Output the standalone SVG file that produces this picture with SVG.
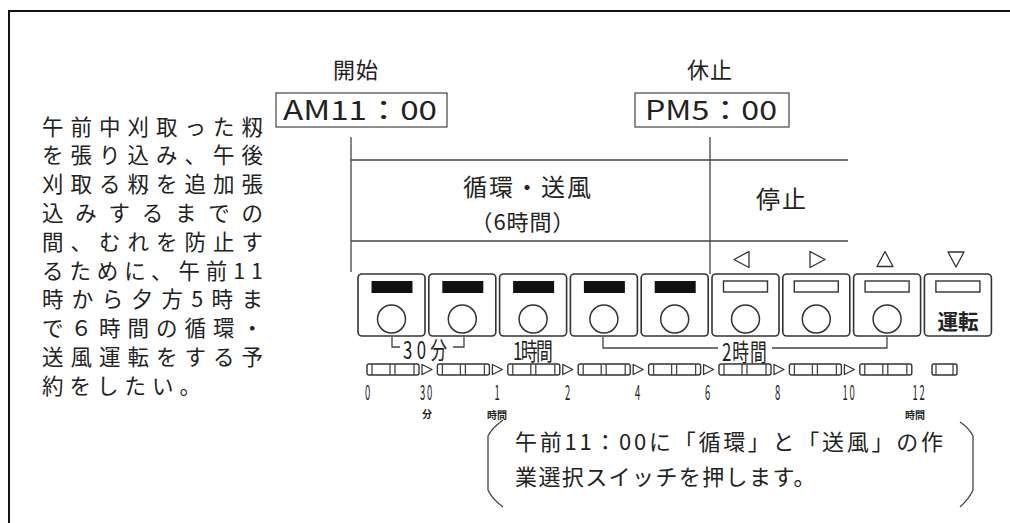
<svg xmlns="http://www.w3.org/2000/svg" width="1010" height="523" viewBox="0 0 1010 523">
<style>
text{font-family:'Noto Sans CJK JP','Noto Sans CJK SC',sans-serif;fill:#222}
.lt{font-size:21.5px}
.hd{font-size:22px;letter-spacing:1px}
.big{font-size:24px;letter-spacing:2px}
.tm{font-size:27px}
.cl{font-size:22px}
.ln{stroke:#444;stroke-width:1.3;fill:none}
.btn{fill:#fff;stroke:#333;stroke-width:1.6}
.bar{fill:#111}
.obar{fill:#fff;stroke:#333;stroke-width:1.4}
.knob{fill:#fff;stroke:#333;stroke-width:1.5}
.seg{fill:#fff;stroke:#333;stroke-width:1.4}
.tri{fill:#fff;stroke:#333;stroke-width:1.3;stroke-linejoin:round}
.num{font-size:21px}
.tiny{font-size:10px;font-weight:bold}
.brk{font-size:24px}
</style>
<defs>
<g id="segm">
<rect class="seg" x="0" y="0" width="52" height="11" rx="2"/>
<line class="ln" x1="5" y1="0" x2="5" y2="11"/>
<line class="ln" x1="23" y1="0" x2="23" y2="11"/>
<line class="ln" x1="28" y1="0" x2="28" y2="11"/>
<line class="ln" x1="47" y1="0" x2="47" y2="11"/>
</g>
<polygon id="rtri" class="tri" points="0,0 10,5 0,10"/>
</defs>

<g id="frame"><path d="M9,523 V11 H1010" fill="none" stroke="#111" stroke-width="2"/></g>

<g id="description">
<text class="lt" x="42" y="134.5" textLength="221" lengthAdjust="spacing">午前中刈取った籾</text>
<text class="lt" x="42" y="163.3" textLength="221" lengthAdjust="spacing">を張り込み、午後</text>
<text class="lt" x="42" y="192.1" textLength="221" lengthAdjust="spacing">刈取る籾を追加張</text>
<text class="lt" x="42" y="220.9" textLength="221" lengthAdjust="spacing">込みするまでの</text>
<text class="lt" x="42" y="249.7" textLength="221" lengthAdjust="spacing">間、むれを防止す</text>
<text class="lt" x="42" y="278.5" textLength="221" lengthAdjust="spacing">るために、午前11</text>
<text class="lt" x="42" y="307.3" textLength="221" lengthAdjust="spacing">時から夕方5時ま</text>
<text class="lt" x="42" y="336.1" textLength="221" lengthAdjust="spacing">で６時間の循環・</text>
<text class="lt" x="42" y="364.9" textLength="221" lengthAdjust="spacing">送風運転をする予</text>
<text class="lt" x="42" y="393.7" letter-spacing="6">約をしたい。</text>
</g>

<g id="start">
<text class="hd" x="356" y="78" text-anchor="middle">開始</text>
<rect x="276" y="93" width="171" height="34" fill="#fff" stroke="#444" stroke-width="1.2"/>
<text class="tm" x="283" y="120" textLength="154" lengthAdjust="spacingAndGlyphs">AM11：00</text>
</g>

<g id="stop">
<text class="hd" x="710" y="78" text-anchor="middle">休止</text>
<rect x="635" y="93" width="154" height="34" fill="#fff" stroke="#444" stroke-width="1.2"/>
<text class="tm" x="645" y="120" textLength="132" lengthAdjust="spacingAndGlyphs">PM5：00</text>
</g>

<g id="connectors">
<line class="ln" x1="351" y1="137" x2="351" y2="272"/>
<line class="ln" x1="710" y1="137" x2="710" y2="274"/>
<line class="ln" x1="351" y1="160" x2="848" y2="160"/>
<line class="ln" x1="351" y1="241" x2="848" y2="241"/>
<path class="ln" d="M392,337 V347 H400"/>
<path class="ln" d="M453,347 H464 V337"/>
<path class="ln" d="M603,337 V348 H718"/>
<path class="ln" d="M772,348 H887 V337"/>
<path class="ln" d="M503,420 Q492,428 488,436 V490 Q492,499 503,507"/>
<path class="ln" d="M960,422 Q969,428 973,436 V490 Q969,499 960,507"/>
</g>

<g id="phase-run">
<text class="big" x="528" y="196" text-anchor="middle">循環・送風</text>
<text class="hd" x="523" y="230" text-anchor="middle">（6時間）</text>
</g>
<g id="phase-stop">
<text class="big" x="782" y="208" text-anchor="middle">停止</text>
</g>

<g id="arrows">
<polygon class="tri" points="749,251.5 734,259.5 749,267.5"/>
<polygon class="tri" points="810,251.5 825,259.5 810,267.5"/>
<polygon class="tri" points="885,251.5 877,266.5 893,266.5"/>
<polygon class="tri" points="948,252 964,252 956,267"/>
</g>

<g id="buttons">
<g id="btn1"><rect class="btn" x="358" y="274" width="67" height="62" rx="4"/><rect class="bar" x="371.5" y="281" width="41" height="12"/><circle class="knob" cx="391.5" cy="319" r="14"/></g>
<g id="btn2"><rect class="btn" x="428.8" y="274" width="67" height="62" rx="4"/><rect class="bar" x="442.3" y="281" width="41" height="12"/><circle class="knob" cx="462.3" cy="319" r="14"/></g>
<g id="btn3"><rect class="btn" x="499.6" y="274" width="67" height="62" rx="4"/><rect class="bar" x="513.1" y="281" width="41" height="12"/><circle class="knob" cx="533.1" cy="319" r="14"/></g>
<g id="btn4"><rect class="btn" x="570.4" y="274" width="67" height="62" rx="4"/><rect class="bar" x="583.9" y="281" width="41" height="12"/><circle class="knob" cx="603.9" cy="319" r="14"/></g>
<g id="btn5"><rect class="btn" x="641.2" y="274" width="67" height="62" rx="4"/><rect class="bar" x="654.7" y="281" width="41" height="12"/><circle class="knob" cx="674.7" cy="319" r="14"/></g>
<g id="btn6"><rect class="btn" x="712" y="274" width="67" height="62" rx="4"/><rect class="obar" x="723.5" y="281" width="44" height="11"/><circle class="knob" cx="745.5" cy="319" r="14"/></g>
<g id="btn7"><rect class="btn" x="782.8" y="274" width="67" height="62" rx="4"/><rect class="obar" x="794.3" y="281" width="44" height="11"/><circle class="knob" cx="816.3" cy="319" r="14"/></g>
<g id="btn8"><rect class="btn" x="853.6" y="274" width="67" height="62" rx="4"/><rect class="obar" x="865.1" y="281" width="44" height="11"/><circle class="knob" cx="887.1" cy="319" r="14"/></g>
<g id="btn9"><rect class="btn" x="924.4" y="274" width="67" height="62" rx="4"/><rect class="obar" x="935.9" y="281" width="44" height="11"/><text x="937.5" y="329" font-size="21" font-weight="bold" fill="#333" textLength="41" lengthAdjust="spacingAndGlyphs">運転</text></g>
</g>

<g id="range-labels">
<text class="brk" transform="translate(403,359) scale(0.7,1)" textLength="63" lengthAdjust="spacing">30分</text>
<text class="brk" font-size="22" transform="translate(513,360) scale(0.7,1)" textLength="57" lengthAdjust="spacing">1時間</text>
<text class="brk" transform="translate(722,361) scale(0.7,1)" textLength="64" lengthAdjust="spacing">2時間</text>
</g>

<g id="timeline">
<use href="#segm" x="367" y="364"/>
<use href="#segm" x="437.4" y="364"/>
<use href="#segm" x="507.8" y="364"/>
<use href="#segm" x="578.2" y="364"/>
<use href="#segm" x="648.6" y="364"/>
<use href="#segm" x="719" y="364"/>
<use href="#segm" x="789.4" y="364"/>
<use href="#segm" x="859.8" y="364"/>
<use href="#rtri" x="422" y="364.5"/>
<use href="#rtri" x="492.4" y="364.5"/>
<use href="#rtri" x="562.8" y="364.5"/>
<use href="#rtri" x="633.2" y="364.5"/>
<use href="#rtri" x="703.6" y="364.5"/>
<use href="#rtri" x="774" y="364.5"/>
<use href="#rtri" x="844.4" y="364.5"/>
<g id="lastseg"><rect class="seg" x="932" y="364" width="25" height="11" rx="2"/><line class="ln" x1="936" y1="364" x2="936" y2="375"/><line class="ln" x1="953" y1="364" x2="953" y2="375"/></g>
</g>

<g id="ticks">
<text class="num" text-anchor="middle" transform="translate(367.5,400) scale(0.45,1)">0</text>
<text class="num" text-anchor="middle" transform="translate(427,400) scale(0.45,1)" letter-spacing="4">30</text>
<text class="num" text-anchor="middle" transform="translate(497,400) scale(0.45,1)">1</text>
<text class="num" text-anchor="middle" transform="translate(567.5,400) scale(0.45,1)">2</text>
<text class="num" text-anchor="middle" transform="translate(637.5,400) scale(0.45,1)">4</text>
<text class="num" text-anchor="middle" transform="translate(707.5,400) scale(0.45,1)">6</text>
<text class="num" text-anchor="middle" transform="translate(777.5,400) scale(0.45,1)">8</text>
<text class="num" text-anchor="middle" transform="translate(849.5,400) scale(0.45,1)" letter-spacing="4">10</text>
<text class="num" text-anchor="middle" transform="translate(919.5,400) scale(0.45,1)" letter-spacing="4">12</text>
<text class="tiny" x="427" y="418" text-anchor="middle" font-size="9">分</text>
<text class="tiny" x="497" y="419" text-anchor="middle">時間</text>
<text class="tiny" x="915" y="419" text-anchor="middle">時間</text>
</g>

<g id="callout">
<text class="cl" x="515" y="450" textLength="428" lengthAdjust="spacing">午前11：00に「循環」と「送風」の作</text>
<text class="cl" x="515" y="485" letter-spacing="1.4">業選択スイッチを押します。</text>
</g>
</svg>
